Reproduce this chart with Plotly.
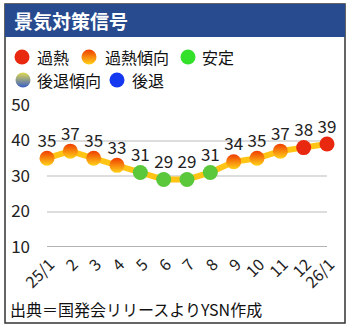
import plotly.graph_objects as go

# Monthly signal index, Jan 2025 – Jan 2026
months = ["25/1", "2", "3", "4", "5", "6", "7", "8", "9", "10", "11", "12", "26/1"]
index_values = [35, 37, 35, 33, 31, 29, 29, 31, 34, 35, 37, 38, 39]
# signal class per month: "hot", "warm", "stable", "cool", "cold"
signals = ["warm", "warm", "warm", "warm", "stable", "stable", "stable", "stable",
           "warm", "warm", "warm", "hot", "hot"]
y_ticks = [10, 20, 30, 40, 50]

legend_labels = ["過熱", "過熱傾向", "安定", "後退傾向", "後退"]
title_text = "景気対策信号"
source_text = "出典＝国発会リリースよりYSN作成"

FONT = "Noto Sans CJK JP"
W, H = 350, 328
# plot area in pixels
PX0, PX1, PY0, PY1 = 47, 327, 105, 247

styles = {
    "hot": dict(color="#e8280f", gradient=None),
    "warm": dict(color="#f03c00", gradient=dict(type="vertical", color="#ffd21a")),
    "stable": dict(color="#5ac83a", gradient=None),
    "cool": dict(color="#e0d850", gradient=dict(type="vertical", color="#3a5ec8")),
    "cold": dict(color="#1438f0", gradient=None),
}
legend_colors = {"stable": "#33e02a"}

fig = go.Figure()

# connecting line
fig.add_trace(go.Scatter(
    x=months, y=index_values, mode="lines",
    line=dict(color="#ffc414", width=6), cliponaxis=False, hoverinfo="skip",
))

# markers, grouped by signal class
for key, st in styles.items():
    xs = [m for m, s in zip(months, signals) if s == key]
    ys = [v for v, s in zip(index_values, signals) if s == key]
    if not xs:
        continue
    marker = dict(color=st["color"], size=15, line=dict(width=0))
    if st["gradient"]:
        marker["gradient"] = st["gradient"]
    fig.add_trace(go.Scatter(x=xs, y=ys, mode="markers", marker=marker,
                             cliponaxis=False, hoverinfo="skip"))

# value labels
fig.add_trace(go.Scatter(
    x=months, y=index_values, mode="text+markers", text=[str(v) for v in index_values],
    marker=dict(size=10, color="rgba(0,0,0,0)"),
    textposition="top center", textfont=dict(family=FONT, size=17, color="#222"),
    cliponaxis=False, hoverinfo="skip",
))

# legend entries drawn on a full-page pixel-space axis
legend_items = [
    ("hot", 22, 57, 35), ("warm", 89, 57, 103), ("stable", 188, 57, 200),
    ("cool", 23, 80, 35), ("cold", 117, 80, 130),
]
for (key, cx, cy, tx), label in zip(legend_items, legend_labels):
    st = styles[key]
    marker = dict(color=legend_colors.get(key, st["color"]), size=15, line=dict(width=0))
    if st["gradient"]:
        marker["gradient"] = st["gradient"]
    fig.add_trace(go.Scatter(x=[cx], y=[cy], xaxis="x2", yaxis="y2", mode="markers",
                             marker=marker, cliponaxis=False, hoverinfo="skip"))
    fig.add_annotation(x=tx, y=cy, xref="x2", yref="y2", text=label, showarrow=False,
                       xanchor="left", yanchor="middle",
                       font=dict(family=FONT, size=16, color="#111"))

fig.add_shape(type="rect", xref="x2", yref="y2", x0=5, x1=345, y0=4, y1=323,
              line=dict(color="#333", width=1.5), fillcolor="rgba(0,0,0,0)", layer="below")
fig.add_shape(type="rect", xref="x2", yref="y2", x0=5, x1=345, y0=4, y1=37,
              line=dict(width=0), fillcolor="#284a8e", layer="below")
fig.add_annotation(x=12, y=20.5, xref="x2", yref="y2", text="<b>" + title_text + "</b>",
                   showarrow=False, xanchor="left", yanchor="middle",
                   font=dict(family=FONT, size=19, color="white"))
fig.add_annotation(x=8, y=309, xref="x2", yref="y2", text=source_text, showarrow=False,
                   xanchor="left", yanchor="middle",
                   font=dict(family=FONT, size=16, color="#111"))

fig.update_layout(
    width=W, height=H, margin=dict(l=0, r=0, t=0, b=0, pad=0),
    paper_bgcolor="white", plot_bgcolor="rgba(0,0,0,0)", showlegend=False,
    xaxis=dict(type="category", range=[0, len(months) - 1], showgrid=False,
               domain=[PX0 / W, PX1 / W], anchor="y", automargin=False,
               tickangle=-45, ticks="", ticklabelshift=3, ticklabelstandoff=4,
               tickfont=dict(family=FONT, size=16, color="#222"),
               showline=False, zeroline=False, fixedrange=True),
    yaxis=dict(range=[10, 50], tickvals=y_ticks, showgrid=True, gridcolor="#dddddd",
               domain=[1 - PY1 / H, 1 - PY0 / H], anchor="x", automargin=False,
               gridwidth=1.5, zeroline=False, ticks="", ticklabelstandoff=16,
               tickfont=dict(family=FONT, size=17, color="#222"), fixedrange=True),
    xaxis2=dict(range=[0, W], domain=[0, 1], anchor="y2", visible=False,
                fixedrange=True),
    yaxis2=dict(range=[H, 0], domain=[0, 1], anchor="x2", visible=False,
                fixedrange=True),
)

# darker baseline at the bottom of the value axis
fig.add_hline(y=10, line=dict(color="#999", width=1.5))

fig.write_html("out.html")
